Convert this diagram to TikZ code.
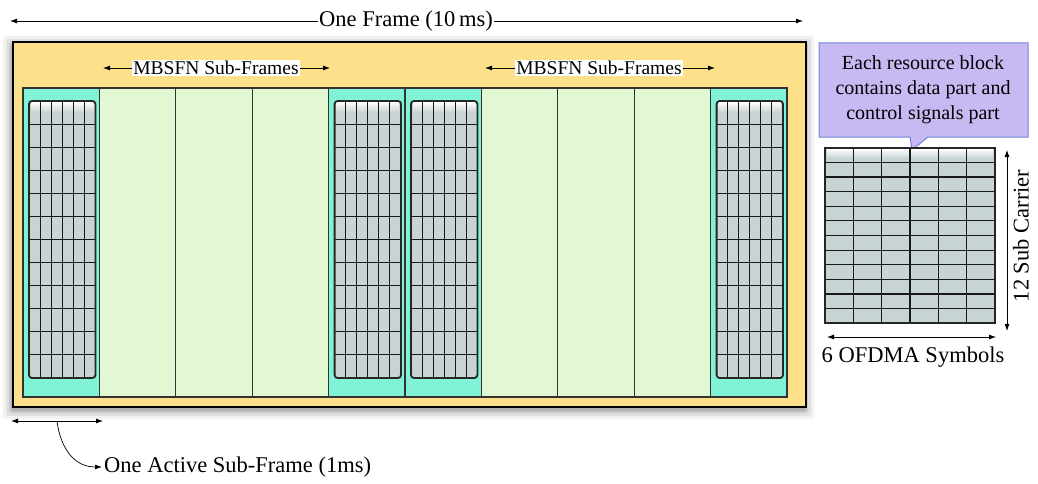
\documentclass[tikz,border=0pt]{standalone}
\usepackage{fontspec}
\setmainfont{Liberation Serif}
\usetikzlibrary{arrows.meta}
\definecolor{frameyellow}{HTML}{FCE08A}
\definecolor{activecyan}{HTML}{80F3D6}
\definecolor{mbgreen}{HTML}{E2F8D2}
\definecolor{gridgray}{HTML}{C8D3D3}
\definecolor{callfill}{HTML}{C9B9F3}
\definecolor{callline}{HTML}{6A86D6}
\newcommand{\myfs}[2]{\fontsize{#1}{#2}\selectfont}
\tikzset{
  tip/.tip={Latex[length=7pt,width=5pt]},
  arr/.style={-tip, line width=0.8pt},
  dbl/.style={tip-tip, line width=0.8pt},
  lbl/.style={inner sep=1pt, fill=white},
  col/.style={draw=black!80, line width=1.3pt, inner sep=0pt, minimum width=76.4pt, minimum height=309pt},
  gridline/.style={draw=black!90, line width=1.1pt},
}
\begin{document}
\begin{tikzpicture}[x=1pt,y=-1pt]
\useasboundingbox (0,0) rectangle (1038,484);
\fill[white] (0,0) rectangle (1038,484);
% shadow of the frame
\foreach \d/\o in {10/0.05,7/0.07,4/0.1,2/0.12}
  \fill[black,opacity=\o,rounded corners=3pt] (13-\d,42-\d+4) rectangle (806+\d-2,407+\d+2);
% frame
\node[draw=black, line width=2pt, fill=frameyellow, inner sep=0pt,
      minimum width=793pt, minimum height=365pt] (frame) at (409.5,224.5) {};
% sub-frames
\foreach \i in {0,...,9}{
  \pgfmathsetmacro{\cx}{23+76.4*\i+38.2}
  \ifnum\i=0 \def\cc{activecyan}\else\ifnum\i=4 \def\cc{activecyan}\else\ifnum\i=5 \def\cc{activecyan}\else\ifnum\i=9 \def\cc{activecyan}\else\def\cc{mbgreen}\fi\fi\fi\fi
  \node[col, fill=\cc] (sf\i) at (\cx,242.5) {};
}
% resource grids in the active sub-frames
\foreach \i in {0,4,5,9}{
  \pgfmathsetmacro{\xa}{23+76.4*\i+6}
  \pgfmathsetmacro{\xb}{23+76.4*(\i+1)-4}
  \pgfmathsetmacro{\dx}{(\xb-\xa)/6}
  \pgfmathsetmacro{\dy}{(378-101)/12}
  \fill[gridgray, rounded corners=3pt] (\xa,101) rectangle (\xb,378);
  \shade[top color=white, bottom color=gridgray] (\xa+2,102) rectangle (\xb-2,112);
  \foreach \k in {1,...,5} \draw[gridline] (\xa+\k*\dx,101) -- (\xa+\k*\dx,378);
  \foreach \k in {1,...,11} \draw[gridline] (\xa,101+\k*\dy) -- (\xb,101+\k*\dy);
  \draw[draw=black!85, line width=1.8pt, rounded corners=3pt] (\xa,101) rectangle (\xb,378);
}
% top label
\node[lbl, font=\myfs{22.5}{26}] (oneframe) at (406,21) {One Frame (10\,ms)};
\coordinate (ofL) at (10,21);
\coordinate (ofR) at (803,21);
\draw[arr] (oneframe.west) -- (ofL);
\draw[arr] (oneframe.east) -- (ofR);
% MBSFN labels
\node[lbl, font=\myfs{19.5}{23}] (mb1) at (216,68) {MBSFN Sub-Frames};
\coordinate (mb1L) at (103,68);
\coordinate (mb1R) at (330,68);
\draw[arr] (mb1.west) -- (mb1L);
\draw[arr] (mb1.east) -- (mb1R);
\node[lbl, font=\myfs{19.5}{23}] (mb2) at (599,68) {MBSFN Sub-Frames};
\coordinate (mb2L) at (485,68);
\coordinate (mb2R) at (715,68);
\draw[arr] (mb2.west) -- (mb2L);
\draw[arr] (mb2.east) -- (mb2R);
% callout
\draw[fill=callfill, draw=callline, line width=1pt]
  (819,43) -- (1028,43) -- (1028,137) -- (928,137) -- (912,150) -- (910,137) -- (819,137) -- cycle;
\node[align=center, font=\myfs{20}{25}, inner sep=0pt] (call) at (923,90)
  {Each resource block\\contains data part and\\control signals part};
% resource block
\node[fill=gridgray, inner sep=0pt, minimum width=170pt, minimum height=175pt] (rb) at (910,235.5) {};
\shade[top color=white, bottom color=gridgray] (827,149) rectangle (993,158);
\foreach \k in {1,...,5} \draw[gridline] (825+\k*170/6,148) -- (825+\k*170/6,323);
\foreach \k in {1,...,11}{
  \pgfmathsetmacro{\lw}{mod(\k,2)==0 ? 1.4 : 0.9}
  \draw[gridline, line width=\lw pt] (825,148+\k*175/12) -- (995,148+\k*175/12);
}
\draw[draw=black!85, line width=2pt] (rb.north west) rectangle (rb.south east);
% 12 Sub Carrier
\coordinate (scT) at (1007,150);
\coordinate (scB) at (1007,331);
\draw[dbl] (scT) -- (scB);
\node[rotate=90, font=\myfs{22.5}{26}] (subcar) at (1021,236) {12 Sub Carrier};
% 6 OFDMA Symbols
\coordinate (ofdL) at (827,337);
\coordinate (ofdR) at (996,337);
\draw[dbl] (ofdL) -- (ofdR);
\node[font=\myfs{22.5}{26}] (ofdma) at (913,357) {6 OFDMA Symbols};
% one active sub-frame
\coordinate (asL) at (11,421);
\coordinate (asR) at (103,421);
\coordinate (asM) at (57,421);
\draw[dbl] (asL) -- (asR);
\node[anchor=west, font=\myfs{22.5}{26}, inner sep=2pt] (active) at (102,467) {One Active Sub-Frame (1ms)};
\draw[arr, line width=0.7pt] (asM) .. controls (60,445) and (72,467) .. (active.west);
\end{tikzpicture}
\end{document}
